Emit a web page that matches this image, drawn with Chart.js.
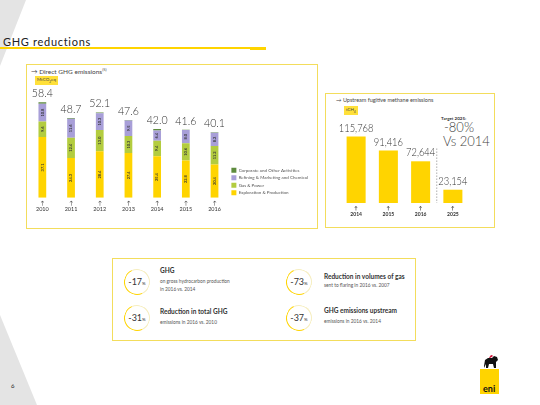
<!DOCTYPE html>
<html>
<head>
<meta charset="utf-8">
<script src="https://cdn.jsdelivr.net/npm/chart.js@4/dist/chart.umd.min.js"></script>
<style>
  html, body { margin: 0; padding: 0; background: #fff; }
  body { width: 540px; height: 405px; position: relative; overflow: hidden; font-family: Lato, "Open Sans", sans-serif; color: #333; }
  .abs { position: absolute; }
  .shade { position: absolute; background: #e4e4e4; }
  .box { position: absolute; border: 1.5px solid #f3dd5c; box-sizing: border-box; }
  .badge { position: absolute; background: #ffe03a; font-size: 4.5px; padding: 1px 2px; color: #444; }
  .ptitle { position: absolute; font-size: 6.5px; color: #444; white-space: nowrap; }
  .ring { position: absolute; width: 26px; height: 26px; border-radius: 50%; border: 1.5px solid; border-color: #f6eebf #f6eebf #ffd400 #ffd400; transform: rotate(20deg); box-sizing: border-box; }
  .pct { position: absolute; font-size: 9px; color: #333; width: 30px; text-align: center; }
  .pct small { font-size: 4.5px; }
  .kt { position: absolute; font-size: 6px; color: #333; white-space: nowrap; }
  .kt b { font-weight: 700; font-size: 6.5px; }
  .ks { position: absolute; font-size: 4.8px; color: #555; white-space: nowrap; line-height: 8px; }
</style>
</head>
<body>
<div class="shade" style="left:0;top:0;width:26px;height:66px;clip-path:polygon(0 0,100% 0,0 100%);"></div>
<div class="shade" style="left:0;top:315px;width:37px;height:90px;clip-path:polygon(0 0,100% 100%,0 100%);"></div>

<div class="abs" style="left:3px;top:35px;font-size:11px;color:#222;letter-spacing:0.7px;">GHG reductions</div>
<div class="abs" style="left:0;top:47px;width:252px;height:1.5px;background:#ffd400;"></div>
<div class="abs" style="left:250px;top:47px;width:16px;height:2.5px;background:#ffd400;"></div>

<div class="box" style="left:26px;top:64px;width:292px;height:165px;"></div>
<div class="ptitle" style="left:31px;top:67px;">&rarr; Direct GHG emissions<sup style="font-size:4px">(5)</sup></div>
<div class="badge" style="left:35px;top:76px;">MtCO<sub style="font-size:3px">2</sub>eq</div>

<div class="box" style="left:325px;top:93px;width:170px;height:135px;"></div>
<div class="ptitle" style="left:336px;top:97px;font-size:5.5px;">&rarr; Upstream fugitive methane emissions</div>
<div class="badge" style="left:344px;top:106px;">tCH<sub style="font-size:3px">4</sub></div>
<div class="abs" style="left:441px;top:116px;font-size:4.5px;font-weight:700;color:#333;">Target 2025:</div>
<div class="abs" style="left:444px;top:119px;font-size:13px;color:#444;font-weight:300;">-80%</div>
<div class="abs" style="left:443px;top:133px;font-size:13px;color:#444;font-weight:300;">Vs 2014</div>

<div class="box" style="left:112px;top:258px;width:304px;height:83px;"></div>
<div class="ring" style="left:124px;top:269px;"></div>
<div class="pct" style="left:122px;top:276px;">-17<small>%</small></div>
<div class="ring" style="left:124px;top:305px;"></div>
<div class="pct" style="left:122px;top:312px;">-31<small>%</small></div>
<div class="ring" style="left:286px;top:269px;"></div>
<div class="pct" style="left:284px;top:276px;">-73<small>%</small></div>
<div class="ring" style="left:286px;top:305px;"></div>
<div class="pct" style="left:284px;top:312px;">-37<small>%</small></div>
<div class="kt" style="left:160px;top:267px;"><b>GHG</b></div>
<div class="ks" style="left:160px;top:277px;">on gross hydrocarbon production<br>in 2016 vs. 2014</div>
<div class="kt" style="left:324px;top:273px;"><b>Reduction in volumes of gas</b></div>
<div class="ks" style="left:324px;top:281px;">sent to flaring in 2016 vs. 2007</div>
<div class="kt" style="left:160px;top:308px;"><b>Reduction in total GHG</b></div>
<div class="ks" style="left:160px;top:318px;">emissions in 2016 vs. 2010</div>
<div class="kt" style="left:324px;top:307px;"><b>GHG emissions upstream</b></div>
<div class="ks" style="left:324px;top:317px;">emissions in 2016 vs. 2014</div>

<div class="abs" style="left:11px;top:382px;font-size:6px;color:#222;">6</div>

<svg class="abs" style="left:478px;top:352px;" width="24" height="44" viewBox="0 0 24 44">
  <rect x="2" y="17" width="19" height="25" fill="#ffd400"/>
  <path d="M6 14 L7 8 L10 6 L14 6 L16 4 L19 5 L20 8 L18 10 L18 16 L16 16 L15 12 L11 12 L10 16 L8 16 L8 12 L6 16 Z" fill="#111"/>
  <path d="M11 6 Q13 1 15 4 Q14 5 12 6 Z" fill="#d2143a"/>
  <text x="5" y="40" font-family="Lato, sans-serif" font-weight="700" font-size="9" fill="#111">eni</text>
</svg>

<canvas id="ghgChart" class="abs" style="left:28px;top:80px;" width="290" height="135"></canvas>
<canvas id="methaneChart" class="abs" style="left:325px;top:110px;" width="160" height="109"></canvas>

<script>
var years = ['2010', '2011', '2012', '2013', '2014', '2015', '2016']
var explorationProduction = [37.1, 24.3, 28.4, 27.4, 25.4, 22.8, 20.4]
var gasPower = [9.6, 12.4, 13.0, 10.3, 9.4, 10.6, 11.2]
var refiningMarketing = [10.8, 11.6, 10.3, 9.5, 6.4, 8.0, 8.2]
var corporateOther = [0.9, 0.4, 0.4, 0.4, 0.8, 0.2, 0.3]
var totals = [58.4, 48.7, 52.1, 47.6, 42.0, 41.6, 40.1]

var methaneYears = ['2014', '2015', '2016', '2025']
var methane = [115768, 91416, 72644, 23154]

var yellow = '#ffd400'

// numbers on top of and inside the bars
var barLabels = {
  id: 'barLabels',
  afterDatasetsDraw: function (chart, args, opts) {
    var c = chart.ctx
    var y = chart.scales.y
    c.save()
    if (opts.inside) {
      chart.data.datasets.forEach(function (ds, i) {
        if (ds.noLabel) return
        chart.getDatasetMeta(i).data.forEach(function (bar, j) {
          c.save()
          c.translate(bar.x, (bar.y + bar.base) / 2)
          c.rotate(-Math.PI / 2)
          c.font = 'bold 4px Lato'
          c.fillStyle = '#333'
          c.textAlign = 'center'
          c.textBaseline = 'middle'
          c.fillText(ds.data[j].toFixed(1), 0, 0)
          c.restore()
        })
      })
    }
    var meta = chart.getDatasetMeta(0)
    opts.values.forEach(function (v, j) {
      c.save()
      c.translate(meta.data[j].x, y.getPixelForValue(v) - opts.gap)
      c.scale(0.85, 1)
      c.font = '300 ' + opts.size + 'px Lato'
      c.fillStyle = '#333'
      c.textAlign = 'center'
      c.textBaseline = 'bottom'
      c.fillText(opts.format(v), 0, 0)
      c.restore()
    })
    c.restore()
  }
}

var ctx = document.getElementById('ghgChart').getContext('2d')
var ghgChart = new Chart(ctx, {
  type: 'bar',
  data: {
    labels: years.map(function (y) { return ['\u2191', y] }),
    datasets: [
      { label: 'Exploration & Production', data: explorationProduction, backgroundColor: yellow },
      { label: 'Gas & Power', data: gasPower, backgroundColor: '#b3cc3f' },
      { label: 'Refining & Marketing and Chemical', data: refiningMarketing, backgroundColor: '#a89fd8' },
      { label: 'Corporate and Other Activities', data: corporateOther, backgroundColor: '#5e8b3e', noLabel: true }
    ]
  },
  options: {
    responsive: false,
    animation: false,
    devicePixelRatio: 1,
    categoryPercentage: 0.27,
    barPercentage: 1,
    layout: { padding: 0 },
    scales: {
      x: {
        stacked: true,
        grid: { display: false, drawTicks: false },
        border: { display: false },
        ticks: { font: { size: 5.5, family: 'Lato' }, color: '#333', padding: 2, maxRotation: 0 }
      },
      y: { stacked: true, display: false, min: 0, max: 72 }
    },
    plugins: {
      legend: {
        position: 'right',
        align: 'end',
        fullSize: false,
        reverse: true,
        labels: { boxWidth: 5, boxHeight: 5, padding: 2.5, font: { size: 4.5, family: 'Lato' }, color: '#555' }
      },
      tooltip: { enabled: false },
      barLabels: { inside: true, values: totals, size: 12.5, gap: 3, format: function (v) { return v.toFixed(1) } }
    }
  },
  plugins: [barLabels]
})

// dashed separator before the target bar
var separator = {
  id: 'separator',
  afterDatasetsDraw: function (chart) {
    var x = chart.scales.x
    var y = chart.scales.y
    var px = (x.getPixelForValue(2) + x.getPixelForValue(3)) / 2
    var c = chart.ctx
    c.save()
    c.strokeStyle = '#777'
    c.lineWidth = 0.6
    c.setLineDash([1.5, 1.5])
    c.beginPath()
    c.moveTo(px, y.getPixelForValue(95000))
    c.lineTo(px, y.bottom)
    c.stroke()
    c.restore()
  }
}

var ctx2 = document.getElementById('methaneChart').getContext('2d')
var methaneChart = new Chart(ctx2, {
  type: 'bar',
  data: {
    labels: methaneYears.map(function (y) { return ['\u2191', y] }),
    datasets: [{ label: 'Upstream fugitive methane emissions', data: methane, backgroundColor: yellow }]
  },
  options: {
    responsive: false,
    animation: false,
    devicePixelRatio: 1,
    categoryPercentage: 0.59,
    barPercentage: 1,
    layout: { padding: { left: 15, right: 16 } },
    scales: {
      x: {
        grid: { display: false, drawTicks: false },
        border: { display: false },
        ticks: { font: { size: 5, family: 'Lato', weight: 'bold' }, color: '#333', padding: 2, maxRotation: 0 }
      },
      y: { display: false, min: 0, max: 162000 }
    },
    plugins: {
      legend: { display: false },
      tooltip: { enabled: false },
      barLabels: { inside: false, values: methane, size: 11, gap: 3, format: function (v) { return v.toLocaleString('en-US') } }
    }
  },
  plugins: [barLabels, separator]
})
</script>
</body>
</html>
